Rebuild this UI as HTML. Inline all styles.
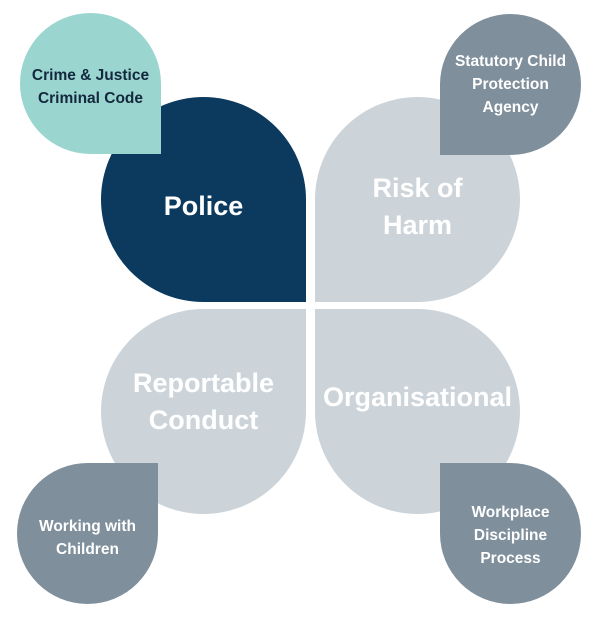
<!DOCTYPE html>
<html><head><style>
body{margin:0;width:600px;height:620px;background:#fff;position:relative;overflow:hidden;font-family:"Liberation Sans",sans-serif;}
.s{position:absolute;display:flex;align-items:center;justify-content:center;text-align:center;font-weight:bold;box-sizing:border-box;}
.big{width:205px;height:205px;border-radius:50%;color:#fff;font-size:27px;line-height:37px;}
.sm{width:141px;height:141px;border-radius:50%;font-size:15.5px;line-height:23px;}
.g{background:#ccd4da;}
.d{background:#7f8f9c;color:#fff;}
</style></head><body>
<div class="s big" style="left:101px;top:97px;background:#0c3a5e;border-bottom-right-radius:0;padding-top:14px;">Police</div>
<div class="s big g" style="left:315px;top:97px;border-bottom-left-radius:0;padding-top:14px;">Risk of<br>Harm</div>
<div class="s big g" style="left:101px;top:309px;border-top-right-radius:0;padding-bottom:20px;">Reportable<br>Conduct</div>
<div class="s big g" style="left:315px;top:309px;border-top-left-radius:0;padding-bottom:28px;">Organisational</div>
<div class="s sm" style="left:20px;top:13px;background:#9ad5d0;color:#13283d;border-bottom-right-radius:0;padding-top:6px;">Crime &amp; Justice<br>Criminal Code</div>
<div class="s sm d" style="left:440px;top:14px;border-bottom-left-radius:0;">Statutory Child<br>Protection<br>Agency</div>
<div class="s sm d" style="left:17px;top:463px;border-top-right-radius:0;padding-top:8px;">Working with<br>Children</div>
<div class="s sm d" style="left:440px;top:463px;border-top-left-radius:0;padding-top:4px;">Workplace<br>Discipline<br>Process</div>
</body></html>
